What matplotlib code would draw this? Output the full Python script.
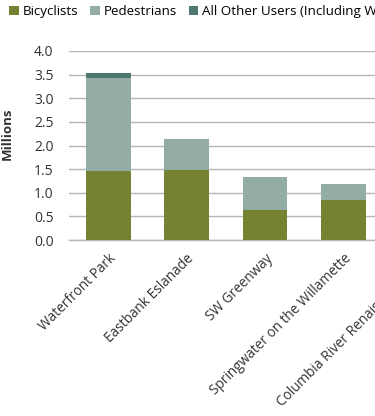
import matplotlib.pyplot as plt
import numpy as np

plt.rcParams['font.family'] = ['Open Sans', 'DejaVu Sans']

trails = ["Waterfront Park", "Eastbank Eslanade", "SW Greenway",
          "Springwater on the Willamette", "Columbia River Renaissance Trail"]
bicyclists = [1.46, 1.48, 0.63, 0.85, 0.90]
pedestrians = [1.97, 0.66, 0.70, 0.34, 0.40]
other_users = [0.10, 0.0, 0.0, 0.0, 0.0]

c_bike = '#758232'
c_ped = '#93aca6'
c_other = '#4f7670'

fig = plt.figure(figsize=(3.75, 4.16), dpi=100)
# axes runs off the right edge, like the cropped original
ax = fig.add_axes([69 / 375, 176 / 416, 392 / 375, 189 / 416])

x = np.arange(len(trails))
w = 0.57
ax.bar(x, bicyclists, w, color=c_bike, label='Bicyclists', zorder=3)
ax.bar(x, pedestrians, w, bottom=bicyclists, color=c_ped, label='Pedestrians', zorder=3)
bottom2 = np.array(bicyclists) + np.array(pedestrians)
ax.bar(x, other_users, w, bottom=bottom2, color=c_other,
       label='All Other Users (Including Wheelchairs)', zorder=3)

ax.set_xlim(-0.5, len(trails) - 0.5)
ax.set_ylim(0, 4.0)
ticks = np.arange(0, 4.01, 0.5)
ax.set_yticks(ticks)
ax.set_yticklabels([f"{v:.1f}" for v in ticks], fontsize=10, color='#333333')
ax.yaxis.grid(True, color='#b5b5b5', linewidth=1.0, zorder=0)
ax.tick_params(axis='y', length=0, pad=11)
ax.tick_params(axis='x', length=0, pad=8)
for s in ['top', 'right', 'left']:
    ax.spines[s].set_visible(False)
ax.spines['bottom'].set_color('#b5b5b5')
ax.spines['bottom'].set_linewidth(1.0)

ax.set_xticks(x)
ax.set_xticklabels(trails, rotation=45, ha='right', rotation_mode='anchor',
                   fontsize=9.8, color='#333333')

ax.set_ylabel('Millions', fontsize=9.5, fontweight='bold', color='#333333')
ax.yaxis.set_label_coords(-55 / 392, 0.56)

fig.legend(loc='upper left', bbox_to_anchor=(0.0, 1.01), ncol=3, frameon=False,
           fontsize=9.6, handlelength=0.7, handleheight=0.7, handletextpad=0.3,
           columnspacing=0.9, borderaxespad=0.3)

fig.savefig('out.png', dpi=100)
